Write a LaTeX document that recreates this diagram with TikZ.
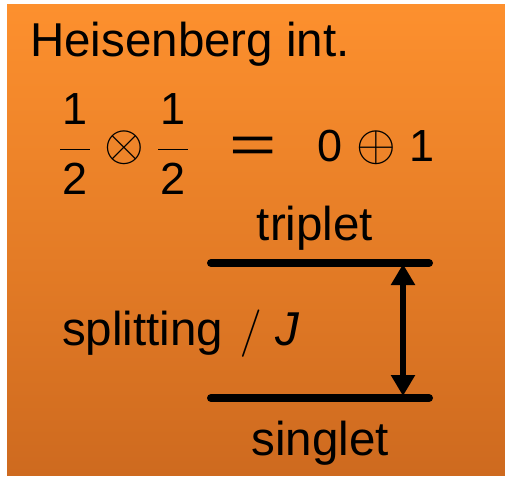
\RequirePackage{fix-cm}
\documentclass[tikz,border=0pt]{standalone}
\usepackage{amsmath}
\usepackage{fontspec}
\setmainfont{Liberation Sans}
\usepackage{graphicx}
\usetikzlibrary{arrows.meta}

\definecolor{boxtop}{RGB}{253,144,46}
\definecolor{boxbottom}{RGB}{206,106,31}

\newcommand{\halfsym}{$\dfrac{\text{\raisebox{6pt}{\kern2pt 1\kern2pt}}}{\text{\raisebox{-3pt}{2}}}$}

\begin{document}
\begin{tikzpicture}[
  x=1pt, y=-1pt,
  word/.style={inner sep=0, font=\fontsize{47.5}{57}\selectfont},
  mathsym/.style={inner sep=0, anchor=base, font=\fontsize{45}{54}\selectfont},
  circsym/.style={inner sep=0, anchor=base, font=\fontsize{51}{60}\selectfont},
  level/.style={line width=8pt, line cap=round},
  splitarrow/.style={{Triangle[length=21pt,width=23pt]}-{Triangle[length=21pt,width=23pt]}, line width=6.5pt}
]
\useasboundingbox (0,0) rectangle (505,478);
\shade[top color=boxtop, bottom color=boxbottom] (7,5) rectangle (505,475);

\node[word, anchor=base west] (title) at (30,57) {Heisenberg int.};

% 1/2 x 1/2 = 0 + 1
\node[mathsym] (halfa) at (75,161) {\halfsym};
\node[circsym] (otimes) at (124,161) {$\otimes$};
\node[mathsym] (halfb) at (173,161) {\halfsym};
\node[mathsym] (equals) at (253,163) {\scalebox{1.8}[1.15]{=}};
\node[mathsym] (zero) at (330,162) {0};
\node[circsym] (oplus) at (376,161) {$\oplus$};
\node[mathsym] (one) at (422,162) {1};

% levels
\coordinate (tripletL) at (211,263);
\coordinate (tripletR) at (429,263);
\coordinate (singletL) at (211,398);
\coordinate (singletR) at (429,398);
\coordinate (upper) at (403,264);
\coordinate (lower) at (403,396);

\draw[level] (tripletL) -- (tripletR);
\draw[level] (singletL) -- (singletR);
\draw[splitarrow] (upper) -- (lower);

\node[word, anchor=base] (triplet) at (315,240) {triplet};
\node[word, anchor=base] (singlet) at (320,455) {singlet};
\node[word, anchor=base west] (splitting) at (62,345) {splitting\hspace{0.35em}$/$\hspace{0.3em}\textit{J}};
\end{tikzpicture}
\end{document}
